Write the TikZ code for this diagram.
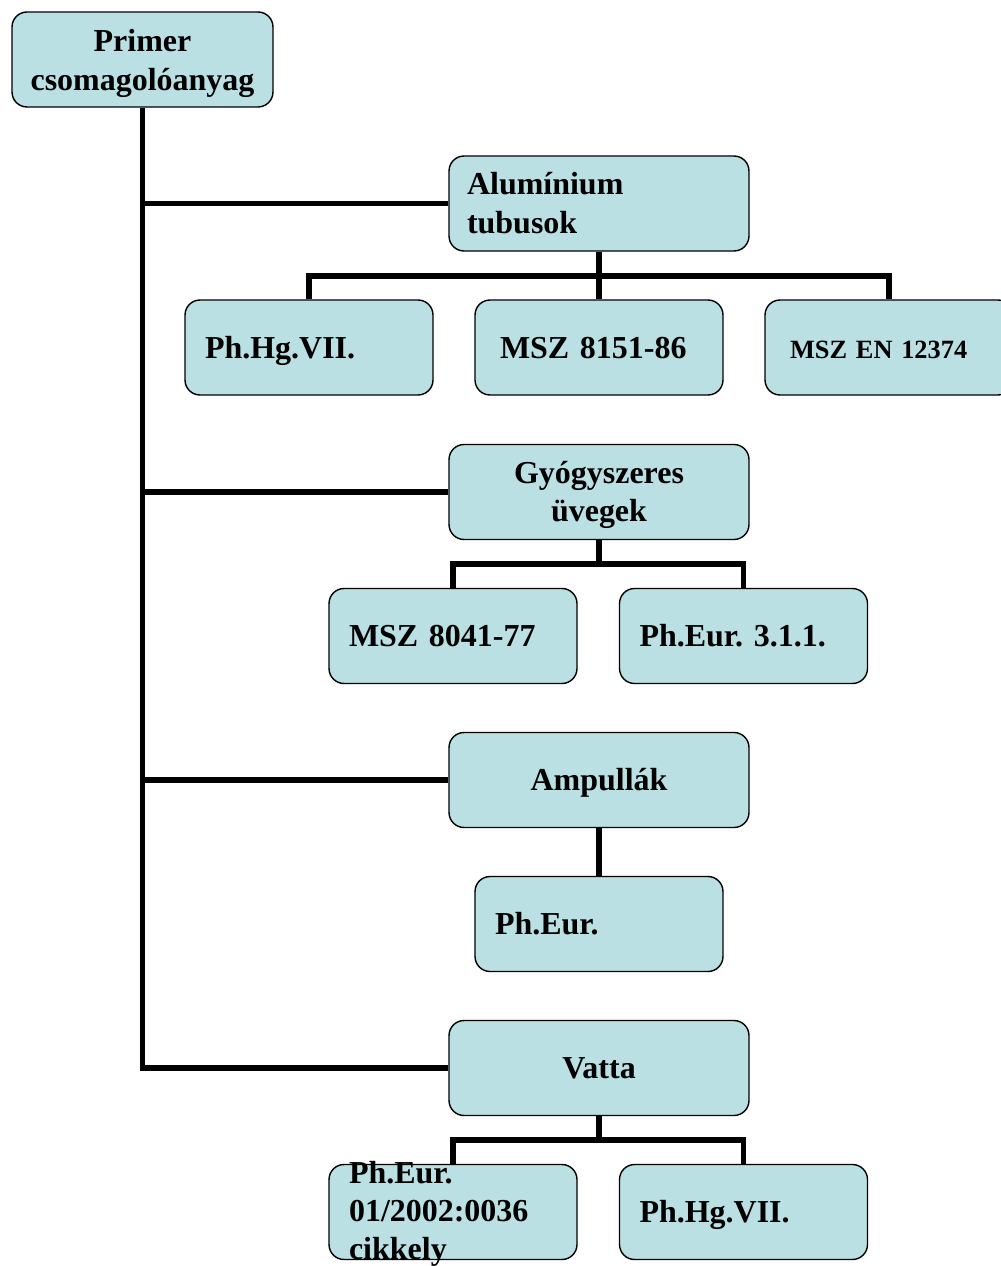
\documentclass[tikz,border=0pt]{standalone}
\usepackage{fontspec}
\setmainfont{Liberation Serif}
\frenchspacing
\definecolor{dobozkek}{RGB}{186,224,227}
\tikzset{
  doboz/.style={draw=black,line width=0.8pt,fill=dobozkek,rounded corners=0.3cm,
    minimum height=1.9cm,font=\fontsize{18.2}{21.8}\selectfont\bfseries},
  nagy/.style={doboz,minimum width=6cm,text width=5.28cm,inner xsep=0.36cm,align=center},
  level/.style={doboz,minimum width=4.96cm,text width=4.16cm,inner xsep=0.4cm,align=left},
  egysor/.style={text height=16.2pt,text depth=4pt},
  tobbsor/.style={text height=0pt,text depth=#1},
  vonal/.style={line width=3.2pt}
}
\begin{document}
\begin{tikzpicture}[x=0.02cm,y=-0.02cm]
    \useasboundingbox (0,0) rectangle (1000,1266);

    %Gyoker
    \node[doboz,minimum width=5.22cm,text width=4.7cm,inner xsep=0.26cm,align=center,tobbsor=0.3cm] (root) at (142.5,59.5) {Primer\\csomagolóanyag};

    %Fo agak
    \node[nagy,align=left,tobbsor=0.34cm] (alu) at (599,203.5) {Alumínium\\tubusok};
    \node[nagy,tobbsor=0.36cm] (gyogy) at (599,492) {Gyógyszeres\\üvegek};
    \node[nagy,egysor] (ampul) at (599,780) {Ampullák};
    \node[nagy,egysor] (vatta) at (599,1068) {Vatta};

    %Levelek
    \node[level,egysor] (phhga) at (309,347.5) {Ph.Hg.VII.};
    \node[level,egysor,inner xsep=0.5cm,text width=3.96cm] (msza) at (599,347.5) {MSZ 8151-86};
    \node[level,egysor,inner xsep=0.5cm,text width=3.96cm,font=\fontsize{15}{18}\selectfont\bfseries] (mszen) at (889,347.5) {MSZ EN 12374};
    \node[level,egysor] (mszb) at (453,636) {MSZ 8041-77};
    \node[level,egysor] (pheura) at (743.5,636) {Ph.Eur. 3.1.1.};
    \node[level,egysor] (pheurb) at (599,924) {Ph.Eur.};
    \node[level,tobbsor=1.16cm] (pheurc) at (453,1212) {Ph.Eur.\\01/2002:0036\\cikkely};
    \node[level,egysor] (phhgb) at (743.5,1212) {Ph.Hg.VII.};

    %Torzs
    \draw[vonal] (root.south) |- (vatta.west);
    \foreach \b in {alu,gyogy,ampul}{
        \draw[vonal] (root.south |- \b.west) -- (\b.west);
    }

    %Elagazasok
    \draw[vonal] (alu.south) -- ++(0,24) coordinate (aluj);
    \draw[vonal] (phhga.north) |- (aluj) -| (mszen.north);
    \draw[vonal] (aluj) -- (msza.north);

    \draw[vonal] (gyogy.south) -- ++(0,24) coordinate (gyogyj);
    \draw[vonal] (mszb.north) |- (gyogyj) -| (pheura.north);

    \draw[vonal] (ampul.south) -- (pheurb.north);

    \draw[vonal] (vatta.south) -- ++(0,24) coordinate (vattaj);
    \draw[vonal] (pheurc.north) |- (vattaj) -| (phhgb.north);
\end{tikzpicture}
\end{document}
